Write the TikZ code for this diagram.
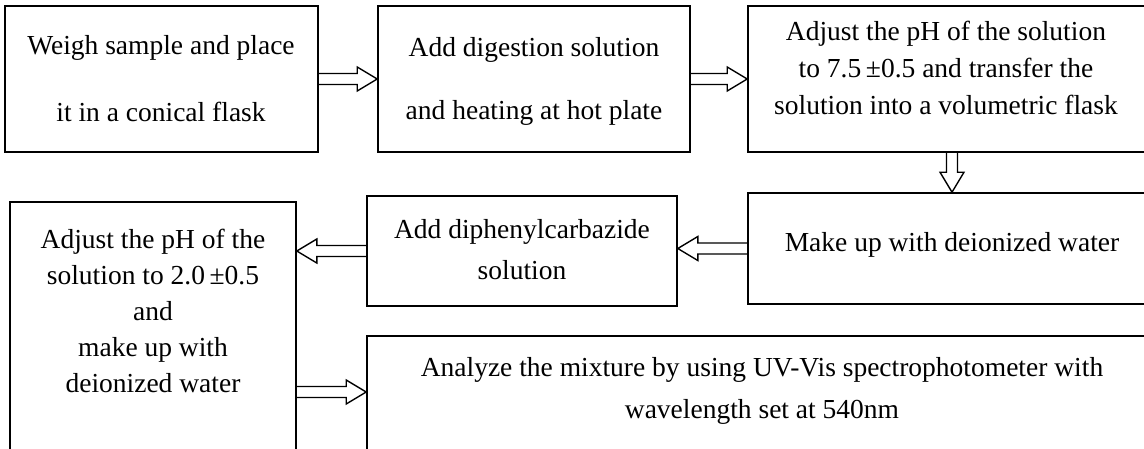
\documentclass[tikz,border=0pt]{standalone}
\usepackage{fontspec}
\setmainfont{Liberation Serif}
\usetikzlibrary{calc}
\tikzset{
  box/.style={draw, line width=1.6pt, inner sep=0pt},
  txt/.style={align=center, inner sep=0pt},
  arrline/.style={draw, line width=1.4pt, line join=miter},
}
\newcommand{\fs}[1]{\fontsize{27.5}{#1}\selectfont}
\newcommand{\blkarrow}[2]{%
  \coordinate (ah) at ($(#2)!20pt!(#1)$);
  \draw[arrline] ($(#1)!5.5pt!90:(#2)$) -- ($(ah)!5.5pt!-90:(#1)$) -- ($(ah)!12pt!-90:(#1)$) -- (#2)
    -- ($(ah)!12pt!90:(#1)$) -- ($(ah)!5.5pt!90:(#1)$) -- ($(#1)!5.5pt!-90:(#2)$);}
\begin{document}
\begin{tikzpicture}[x=1pt,y=-1pt]
\useasboundingbox (0,0) rectangle (1144,448);
\clip (0,0) rectangle (1144,448);
\fill[white] (0,0) rectangle (1144,448);
% boxes
\node[box, minimum width=313pt, minimum height=146pt] (b1) at (161.5,79) {};
\node[box, minimum width=312pt, minimum height=146pt] (b2) at (534,79) {};
\node[box, minimum width=402pt, minimum height=146pt] (b3) at (949,79) {};
\node[box, minimum width=402pt, minimum height=111pt] (b4) at (949,248.5) {};
\node[box, minimum width=310pt, minimum height=110pt] (b5) at (522,251) {};
\node[box, minimum width=286pt, minimum height=256pt] (b6) at (153,330) {};
\node[box, minimum width=783pt, minimum height=122pt] (b7) at (758.5,397) {};
% texts
\node[txt, font=\fs{67}] (t1) at (161,79) {Weigh sample and place\\it in a conical flask};
\node[txt, font=\fs{63}] (t2) at (534,81) {Add digestion solution\\and heating at hot plate};
\node[txt, font=\fs{37}] (t3) at (946,68) {Adjust the pH of the solution\\to 7.5\,±0.5 and transfer the\\solution into a volumetric flask};
\node[txt, font=\fs{37}] (t4) at (952,245) {Make up with deionized water};
\node[txt, font=\fs{41}] (t5) at (522,250) {Add diphenylcarbazide\\solution};
\node[txt, font=\fs{36}] (t6) at (153,311) {Adjust the pH of the\\solution to 2.0\,±0.5\\and\\make up with\\deionized water};
\node[txt, font=\fs{42}] (t7) at (762,391) {Analyze the mixture by using UV-Vis spectrophotometer with\\wavelength set at 540nm};
% connector end points
\coordinate (d1) at ($(b3.south)+(3,0)$);
\coordinate (d2) at (d1 |- b4.north);
\coordinate (a2) at (b4.west -| b5.east);
\coordinate (c2) at (b5.west -| b6.east);
\coordinate (e2) at ($(b7.west)+(0,-5)$);
\coordinate (e1) at (e2 -| b6.east);
% connectors
\blkarrow{b1.east}{b2.west}
\blkarrow{b2.east}{b3.west}
\blkarrow{d1}{d2}
\blkarrow{b4.west}{a2}
\blkarrow{b5.west}{c2}
\blkarrow{e1}{e2}
\end{tikzpicture}
\end{document}
